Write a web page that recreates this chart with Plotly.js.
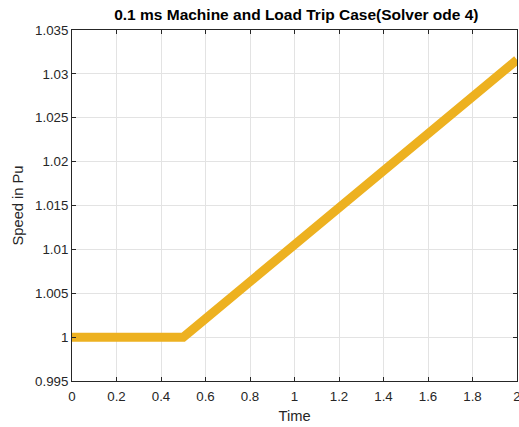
<!DOCTYPE html>
<html>
<head>
<meta charset="utf-8">
<script src="https://cdn.plot.ly/plotly-3.0.1.min.js"></script>
<style>
  html, body { margin: 0; padding: 0; background: #ffffff; }
  #chart { width: 519px; height: 427px; }
</style>
</head>
<body>
<div id="chart"></div>
<script>
// Rotor speed (pu) after the machine and load trip
const time  = [0, 0.5, 0.6, 0.8, 1.0, 1.2, 1.4, 1.6, 1.8, 2.0];
const speed = [1.0, 1.0, 1.0021, 1.0063, 1.0106, 1.0148, 1.0190, 1.0231, 1.0274, 1.0316];

const xTickVals = [0, 0.2, 0.4, 0.6, 0.8, 1, 1.2, 1.4, 1.6, 1.8, 2];
const xTickText = ['0', '0.2', '0.4', '0.6', '0.8', '1', '1.2', '1.4', '1.6', '1.8', '2'];
const yTickVals = [0.995, 1.0, 1.005, 1.01, 1.015, 1.02, 1.025, 1.03, 1.035];
const yTickText = ['0.995', '1', '1.005', '1.01', '1.015', '1.02', '1.025', '1.03', '1.035'];

const axisColor = '#262626';
const gridColor = '#e3e3e3';
const fontFamily = '"Liberation Sans", Arial, Helvetica, sans-serif';

const trace = {
  x: time,
  y: speed,
  type: 'scatter',
  mode: 'lines',
  line: { color: '#EDB120', width: 9 },
  hoverinfo: 'skip'
};

const commonAxis = {
  showline: true,
  linecolor: axisColor,
  linewidth: 1,
  mirror: 'ticks',
  ticks: 'inside',
  ticklen: 4,
  tickcolor: axisColor,
  showgrid: true,
  gridcolor: gridColor,
  gridwidth: 1,
  zeroline: false,
  ticklabeloverflow: 'allow',
  tickfont: { family: fontFamily, size: 13.3, color: axisColor }
};

const layout = {
  width: 519,
  height: 427,
  margin: { l: 72, r: 2, t: 30, b: 46 },
  paper_bgcolor: '#ffffff',
  plot_bgcolor: '#ffffff',
  showlegend: false,
  title: {
    text: '<b>0.1 ms Machine and Load Trip Case(Solver ode 4)</b>',
    font: { family: fontFamily, size: 15.5, color: '#000000' },
    x: 0.571,
    xanchor: 'center',
    y: 0.965,
    yanchor: 'middle'
  },
  xaxis: Object.assign({}, commonAxis, {
    range: [0, 2],
    tickvals: xTickVals,
    ticktext: xTickText,
    ticklabelstandoff: 3,
    title: { text: 'Time', font: { family: fontFamily, size: 14.7, color: axisColor }, standoff: 7 }
  }),
  yaxis: Object.assign({}, commonAxis, {
    range: [0.995, 1.035],
    tickvals: yTickVals,
    ticktext: yTickText,
    title: { text: 'Speed in Pu', font: { family: fontFamily, size: 14.7, color: axisColor }, standoff: 7 }
  })
};

Plotly.newPlot('chart', [trace], layout, { staticPlot: true, displayModeBar: false });
</script>
</body>
</html>
